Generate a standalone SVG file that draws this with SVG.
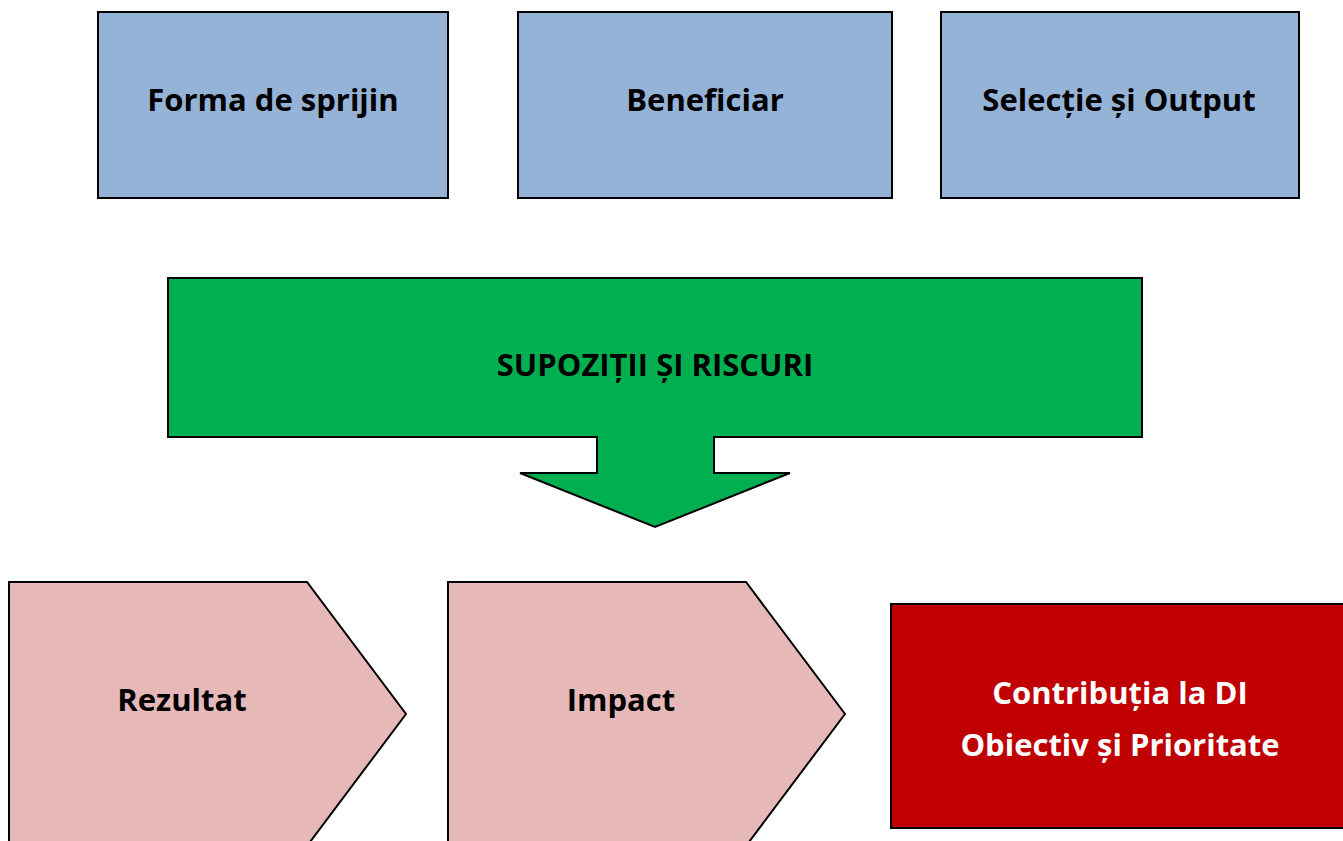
<svg xmlns="http://www.w3.org/2000/svg" width="1343" height="841" viewBox="0 0 1343 841">
<style>
.t{font-family:"Open Sans","Liberation Sans",sans-serif;font-weight:bold;font-size:31px;text-anchor:middle;fill:#000}
.w{fill:#fff}
.blue{fill:#95b3d7;stroke:#000;stroke-width:2}
.pink{fill:#e6b9b8;stroke:#000;stroke-width:2}
</style>
<rect width="1343" height="841" fill="#fff"/>
<g id="forma"><rect class="blue" x="98" y="12" width="350" height="186"/><text class="t" x="273" y="111">Forma de sprijin</text></g>
<g id="beneficiar"><rect class="blue" x="518" y="12" width="374" height="186"/><text class="t" x="705" y="111">Beneficiar</text></g>
<g id="selectie"><rect class="blue" x="941" y="12" width="358" height="186"/><text class="t" x="1119" y="111">Selecție și Output</text></g>
<g id="supozitii"><path d="M168,278 H1142 V437 H714 V473 H790 L655,527 L520,473 H597 V437 H168 Z" fill="#00b050" stroke="#000" stroke-width="2"/><text class="t" x="655" y="376">SUPOZIȚII ȘI RISCURI</text></g>
<g id="rezultat"><path class="pink" d="M9,850 V582 H307 L406,714 L307,846 V850"/><text class="t" x="182" y="711">Rezultat</text></g>
<g id="impact"><path class="pink" d="M448,850 V582 H746 L845,714 L746,846 V850"/><text class="t" x="621" y="711">Impact</text></g>
<g id="contributia"><rect x="891" y="604" width="460" height="224" fill="#c00000" stroke="#000" stroke-width="2"/><text class="t w" x="1120" y="704">Contribuția la DI</text><text class="t w" x="1120" y="756">Obiectiv și Prioritate</text></g>
<g id="connectors"></g>
</svg>
